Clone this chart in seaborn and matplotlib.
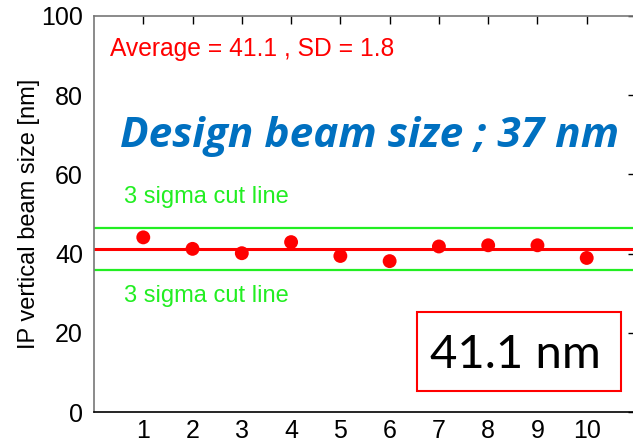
import matplotlib
matplotlib.use("Agg")
import matplotlib.pyplot as plt
import seaborn as sns
import pandas as pd
from matplotlib.patches import Rectangle

# Data
shots = [1, 2, 3, 4, 5, 6, 7, 8, 9, 10]
beam_size = [44.1, 41.2, 40.1, 42.9, 39.4, 38.1, 41.8, 42.1, 42.1, 38.9]
average = 41.1
sd = 1.8
upper_cut = 46.5
lower_cut = 35.8
x_ticks = [1, 2, 3, 4, 5, 6, 7, 8, 9, 10]
y_ticks = [0, 20, 40, 60, 80, 100]

df = pd.DataFrame({"shot": shots, "size": beam_size})

sns.set_theme(style="white")
plt.rcParams["font.family"] = ["Liberation Sans", "DejaVu Sans"]

fig = plt.figure(figsize=(6.33, 4.44), dpi=100)
ax = fig.add_axes([94 / 633, 32 / 444, 542 / 633, 396 / 444])

green = "#22ee22"
red = "#ff0000"

ax.axhline(upper_cut, color=green, lw=1.6, zorder=1)
ax.axhline(lower_cut, color=green, lw=1.6, zorder=1)
ax.axhline(average, color=red, lw=2.2, zorder=2)
sns.scatterplot(data=df, x="shot", y="size", ax=ax, color=red, s=100,
                edgecolor="none", zorder=3, legend=False)

ax.set_xlim(0, 11)
ax.set_ylim(0, 100)
ax.set_xticks(x_ticks)
ax.set_yticks(y_ticks)
ax.set_xlabel("")
ax.set_ylabel("IP vertical beam size [nm]", fontsize=17, labelpad=1,
              color="black")
ax.tick_params(direction="in", top=True, right=True, length=6, width=1,
               color="black", labelcolor="black", labelsize=18)
ax.tick_params(axis="y", pad=8)
ax.tick_params(axis="x", pad=5)

for side in ["left", "top"]:
    ax.spines[side].set_color("#777777")
ax.spines["bottom"].set_color("black")
ax.spines["right"].set_visible(False)
for sp in ax.spines.values():
    sp.set_linewidth(1.2)

ax.text(0.32, 89.9, f"Average = {average} , SD = {sd}", color=red,
        fontsize=17.7, va="baseline", ha="left")
ax.text(0.53, 66.9, "Design beam size ; 37 nm", color="#0070C0",
        fontsize=30.5, fontweight="bold", fontstyle="italic",
        family=["Open Sans", "DejaVu Sans"], va="baseline", ha="left")
ax.text(0.6, 52.8, "3 sigma cut line", color=green, fontsize=17,
        va="baseline", ha="left")
ax.text(0.6, 27.8, "3 sigma cut line", color=green, fontsize=17,
        va="baseline", ha="left")

ax.add_patch(Rectangle((6.56, 5.3), 4.14, 19.95, fill=False,
                       edgecolor=red, lw=1.5, zorder=4))
ax.text(8.555, 11.1, "41.1 nm", color="black", fontsize=34,
        family=["Lato", "DejaVu Sans"], va="baseline", ha="center")

fig.savefig("out.png", dpi=100)
